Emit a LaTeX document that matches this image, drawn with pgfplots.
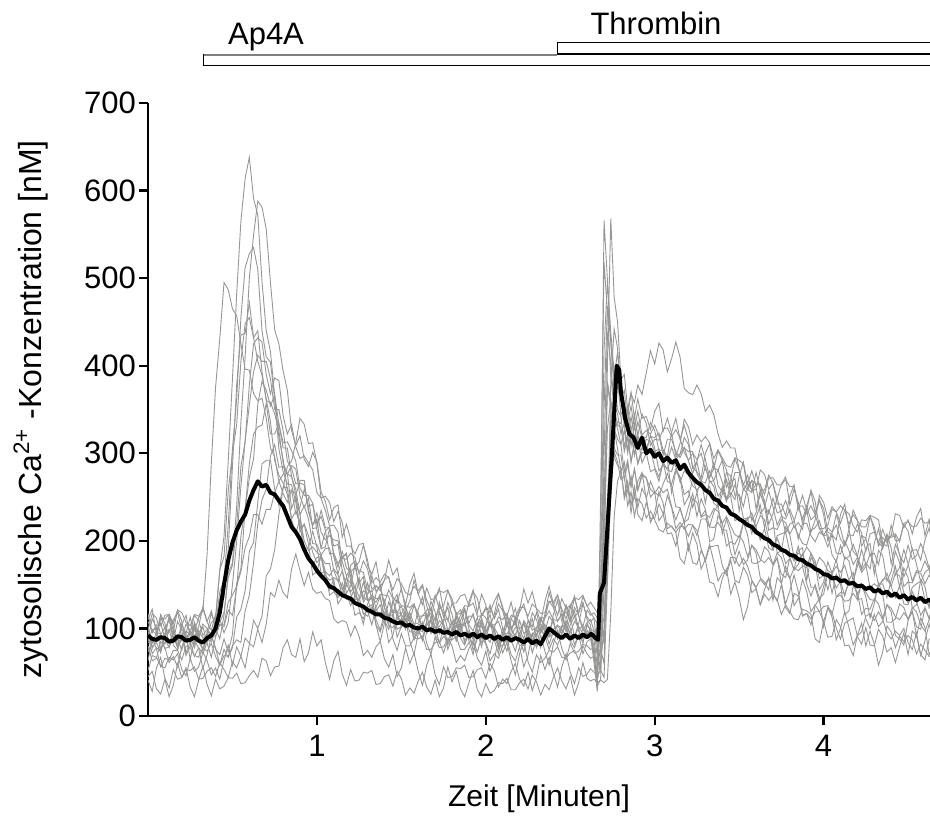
\documentclass[border=0pt]{standalone}
\usepackage{pgfplots}
\usepackage{pgfplotstable}
\pgfplotsset{compat=1.18}
\usepackage{fontspec}
\setmainfont{Liberation Sans}
\definecolor{tracegray}{RGB}{150,151,149}

\pgfplotstableread{
t A B C D E F G H I J K L M N O P
0.000 102 98 84 110 92 73 88 80 52 41 45 108 63 97 85 117
0.025 77 117 83 122 71 85 111 63 69 28 51 97 88 79 99 95
0.050 88 112 95 93 78 86 101 66 67 55 31 94 77 84 99 104
0.075 114 93 94 116 74 91 76 85 57 67 25 110 56 72 106 103
0.100 99 101 82 106 90 77 90 78 55 43 42 111 66 95 88 115
0.125 111 96 98 82 99 79 115 61 67 32 22 116 64 111 78 116
0.150 91 110 96 97 81 88 103 68 64 53 35 97 75 86 96 106
0.175 78 118 87 121 75 89 79 56 71 42 60 87 75 108 82 121
0.200 104 99 86 108 93 75 87 79 53 44 44 105 64 98 87 118
0.225 115 94 97 86 69 92 86 92 46 53 55 90 80 72 105 107
0.250 90 113 93 95 80 85 99 65 66 52 33 95 78 85 97 103
0.275 78 90 101 97 105 68 101 87 51 56 22 115 69 107 82 116
0.300 98 102 85 112 89 78 92 77 56 42 41 109 67 93 90 114
0.325 89 125 76 120 102 71 105 54 73 43 57 92 78 75 75 123
0.350 93 108 94 185 83 84 100 70 63 51 36 99 74 88 95 107
0.375 107 120 88 289 67 93 92 92 47 55 23 88 83 85 118 98
0.400 110 100 102 375 90 76 91 78 55 45 42 112 68 96 100 116
0.425 167 88 142 431 111 70 104 58 42 61 31 167 58 105 134 107
0.450 205 115 155 495 95 88 102 69 64 53 34 182 76 104 135 118
0.475 291 163 218 487 107 73 121 68 81 44 44 257 67 130 190 158
0.500 385 175 305 465 150 93 115 80 58 62 43 300 78 138 285 172
0.525 482 239 362 457 199 151 146 87 79 55 49 333 113 148 378 217
0.550 565 335 455 425 262 168 205 84 68 68 37 405 122 165 435 285
0.575 614 410 512 396 314 236 236 120 55 89 38 448 143 192 437 313
0.600 638 500 528 395 355 272 288 138 82 83 46 455 188 205 472 378
0.625 591 549 535 368 393 294 322 175 109 79 52 432 198 230 432 425
0.650 572 588 510 360 412 356 330 220 100 99 44 440 244 230 405 432
0.675 496 581 440 363 405 382 332 247 114 84 66 393 288 219 389 427
0.700 440 556 410 340 405 372 357 259 160 105 63 360 292 236 362 390
0.725 416 495 404 306 385 354 322 297 168 141 46 358 292 236 336 368
0.750 366 441 362 296 350 367 322 310 190 136 56 345 259 255 292 386
0.775 318 425 305 268 350 333 334 284 230 155 57 326 240 268 275 383
0.800 293 394 279 276 326 312 306 285 260 141 78 289 261 254 266 343
0.825 257 372 265 277 291 313 306 276 285 135 87 277 261 244 253 322
0.850 257 326 264 237 283 303 274 286 291 168 70 273 224 258 225 333
0.875 254 309 244 250 265 291 252 282 312 185 67 259 209 231 234 307
0.900 210 320 214 230 266 260 269 251 340 166 88 230 225 239 219 294
0.925 219 293 219 191 264 252 269 238 333 149 62 240 200 259 187 297
0.950 196 285 206 192 235 252 233 249 311 164 72 225 189 239 183 289
0.975 161 301 187 211 218 243 217 214 312 145 96 197 193 242 172 281
1.000 165 290 175 193 225 219 232 215 289 140 80 196 187 212 181 255
1.025 183 256 182 163 191 228 210 235 248 142 87 184 183 192 182 249
1.050 165 245 174 165 193 212 201 215 235 134 61 191 160 211 156 251
1.075 138 224 174 160 214 185 206 215 217 132 42 192 155 216 144 244
1.100 142 238 149 168 194 186 201 182 218 111 63 166 158 184 156 222
1.125 135 241 137 161 196 174 200 162 210 106 74 154 155 170 128 234
1.150 142 204 152 144 166 182 180 181 176 109 48 166 138 188 136 221
1.175 139 219 133 157 149 184 179 186 160 107 35 140 151 169 159 194
1.200 126 202 134 152 172 159 186 154 168 91 53 149 140 164 142 194
1.225 137 169 148 138 177 147 181 138 133 103 40 171 115 170 148 185
1.250 130 176 136 132 146 158 162 154 134 91 41 152 118 166 122 196
1.275 118 195 116 143 133 130 177 136 153 69 50 159 111 164 105 197
1.300 114 178 120 140 152 138 168 132 132 75 49 134 124 144 128 172
1.325 124 152 104 143 134 160 145 138 134 67 52 117 127 142 137 162
1.350 120 158 124 122 130 142 149 134 104 79 36 140 104 148 110 176
1.375 127 153 137 113 139 149 143 134 85 85 37 150 96 146 98 148
1.400 109 162 110 132 138 124 156 115 106 65 45 124 111 129 118 155
1.425 99 158 130 114 137 107 159 114 115 56 47 112 84 144 103 178
1.450 116 144 118 116 118 130 136 121 88 70 34 132 92 134 101 161
1.475 99 157 90 134 118 139 129 119 75 45 51 118 117 111 111 169
1.500 102 151 102 126 126 112 146 102 94 55 43 117 101 116 110 144
1.525 119 141 124 108 125 99 121 116 80 78 24 126 110 108 112 127
1.550 109 138 110 114 110 118 131 106 80 60 32 124 86 120 96 150
1.575 93 148 89 100 126 105 155 87 89 72 26 128 70 128 96 163
1.600 100 143 99 122 118 106 139 96 88 51 40 114 94 110 104 139
1.625 86 150 96 136 98 115 149 90 91 35 50 114 107 102 106 127
1.650 108 132 107 110 106 114 126 103 76 58 33 121 83 117 94 146
1.675 123 121 107 131 100 117 110 111 76 71 25 122 71 94 110 133
1.700 98 138 96 119 113 101 134 92 84 47 41 109 90 106 102 134
1.725 118 122 109 94 120 102 146 84 85 36 22 126 78 130 83 143
1.750 106 126 104 108 101 110 121 99 72 56 32 118 79 113 91 141
1.775 81 143 95 130 93 111 109 76 88 44 56 98 88 124 85 144
1.800 95 134 93 116 109 97 129 89 80 45 39 106 87 102 99 129
1.825 118 116 104 95 86 114 116 113 61 55 51 101 91 86 107 129
1.850 104 121 101 105 98 106 117 96 69 54 31 115 76 109 89 137
1.875 83 108 108 103 122 86 126 107 63 58 22 123 76 122 81 139
1.900 93 130 90 114 106 94 125 86 77 44 38 104 84 99 97 126
1.925 91 144 81 114 117 89 129 70 85 45 52 97 86 87 75 142
1.950 102 118 99 103 95 103 114 93 66 53 30 113 73 106 88 134
1.975 102 139 84 117 79 110 114 106 58 55 22 90 90 94 112 115
2.000 92 127 88 112 103 91 122 83 74 43 37 102 82 96 96 124
2.025 106 102 106 103 116 84 124 71 51 60 26 127 63 105 108 118
2.050 101 116 98 101 93 100 112 91 64 52 29 111 71 104 87 131
2.075 92 139 81 113 81 77 128 79 88 33 38 122 66 108 71 140
2.100 91 125 87 110 101 89 120 81 72 42 37 100 80 94 95 122
2.125 103 104 74 117 90 114 102 91 84 37 43 85 88 94 109 114
2.150 100 115 97 100 92 98 111 90 63 51 30 110 70 102 86 130
2.175 107 113 112 91 101 109 105 94 47 60 30 123 63 105 74 108
2.200 90 124 86 109 100 88 119 80 71 42 38 99 79 93 94 121
2.225 81 124 107 94 105 73 128 81 85 34 42 88 56 109 83 145
2.250 99 114 96 99 91 97 110 89 62 50 31 109 69 101 85 129
2.275 86 128 72 118 92 111 102 93 50 29 47 98 94 86 94 142
2.300 92 123 88 110 100 88 118 82 70 44 39 101 78 98 93 122
2.325 111 117 112 95 105 78 99 99 61 69 24 112 92 95 101 107
2.350 104 118 99 104 96 99 116 91 66 53 36 112 74 112 90 131
2.375 95 131 82 92 114 90 141 76 75 67 30 120 58 131 91 148
2.400 110 130 96 116 107 94 126 88 73 49 44 110 82 124 99 128
2.425 88 138 93 132 89 103 138 81 79 33 55 109 98 108 104 115
2.450 101 122 103 108 99 101 118 94 67 56 40 116 77 116 94 134
2.475 125 111 104 127 92 106 101 103 66 71 31 119 64 96 109 123
2.500 108 127 95 114 104 92 123 86 72 50 45 108 83 112 100 126
2.525 120 113 108 90 114 92 137 78 75 37 24 124 72 135 82 135
2.550 99 119 102 106 97 100 114 93 64 55 38 115 74 118 92 133
2.575 83 136 94 128 88 102 102 71 80 45 61 97 82 130 85 138
2.600 106 126 94 113 103 90 121 85 71 48 43 107 80 110 98 125
2.620 96 118 98 108 100 94 115 88 66 54 40 110 76 104 93 130
2.640 72 112 88 112 96 80 118 70 68 50 42 98 78 70 62 124
2.660 40 78 58 106 101 48 112 40 62 46 38 70 72 34 28 118
2.680 205 50 102 112 94 82 116 62 58 52 41 150 76 42 252 72
2.700 566 148 352 82 90 248 108 202 102 44 38 418 60 298 518 228
2.720 498 402 468 198 158 378 182 328 248 152 42 496 198 438 462 382
2.740 426 568 428 382 282 352 302 362 322 258 118 438 342 402 388 358
2.760 372 478 384 442 328 306 388 328 296 302 228 392 328 356 352 342
2.780 375 450 350 420 336 298 415 305 286 290 268 385 316 345 332 328
2.800 362 384 342 362 334 298 376 280 282 270 280 344 310 322 330 310
2.820 336 390 308 372 356 270 330 290 248 274 252 352 278 334 302 326
2.840 352 350 322 336 344 288 340 256 262 240 268 322 292 304 318 300
2.860 326 370 290 354 368 262 308 274 232 256 240 342 262 324 290 324
2.880 344 340 312 328 358 282 334 250 254 228 262 316 282 298 312 298
2.900 320 362 288 348 378 258 306 268 230 248 238 336 258 318 288 320
2.925 345 340 301 321 367 277 304 278 223 242 260 317 274 289 307 309
2.950 334 342 300 326 392 272 316 248 244 226 250 318 272 300 300 306
2.975 309 327 304 322 417 250 314 268 225 234 221 335 259 321 279 319
3.000 316 348 284 332 402 256 302 256 226 224 232 326 254 306 282 318
3.025 315 357 273 320 426 251 305 223 242 213 256 303 262 280 268 323
3.050 328 325 290 298 418 265 290 230 231 210 243 304 255 286 290 303
3.075 329 340 268 316 393 277 281 252 208 220 214 296 259 283 293 291
3.100 319 323 265 316 408 263 279 238 209 216 217 324 239 293 255 307
3.125 327 297 282 302 427 239 296 214 194 210 210 340 224 285 280 293
3.150 317 311 273 295 410 238 299 221 215 180 217 316 237 267 272 299
3.175 301 339 253 306 374 221 307 213 222 174 216 332 221 280 241 318
3.200 292 330 257 302 369 239 291 219 189 196 205 315 225 275 250 310
3.225 300 310 238 302 367 254 277 218 209 175 218 283 248 263 271 283
3.250 293 321 255 277 378 228 290 206 196 173 212 291 244 258 256 279
3.275 300 313 269 267 368 248 268 225 168 189 191 310 228 264 227 272
3.300 282 319 243 285 348 236 266 225 179 178 177 293 235 256 230 300
3.325 272 312 269 267 355 199 280 216 196 153 193 272 216 262 227 311
3.350 290 294 262 269 344 202 268 215 176 151 194 283 233 243 237 282
3.375 263 304 238 281 322 229 251 221 154 136 195 281 241 239 234 303
3.400 256 295 253 267 307 220 258 213 163 157 172 292 208 262 220 292
3.425 278 286 270 249 314 194 245 212 165 168 161 281 225 247 228 261
3.450 274 284 251 255 306 199 267 187 181 139 178 259 209 252 217 270
3.475 252 295 223 247 306 196 271 174 181 153 155 278 184 264 207 294
3.500 253 292 226 274 281 206 234 188 171 135 152 278 198 250 204 281
3.525 239 288 220 290 264 199 260 173 180 110 170 264 221 226 221 258
3.550 261 259 227 265 275 182 253 178 171 125 161 258 207 225 224 266
3.575 269 255 227 280 257 195 223 195 155 154 141 269 175 208 232 258
3.600 237 278 216 263 259 190 232 186 147 146 145 265 174 226 215 264
3.625 258 258 229 231 281 179 254 158 156 127 127 265 177 241 201 264
3.650 246 258 224 238 276 175 240 153 150 139 144 241 193 215 214 253
3.675 219 275 203 257 259 181 212 144 157 132 158 231 188 235 192 272
3.700 231 266 190 239 266 173 215 171 140 139 132 249 173 223 189 272
3.725 249 242 206 218 248 180 213 181 131 133 158 232 186 186 203 264
3.750 230 242 208 228 265 162 224 151 150 116 152 234 181 189 191 264
3.775 209 229 210 225 273 158 221 171 124 127 128 246 165 216 174 270
3.800 219 251 187 236 241 181 208 158 117 119 143 232 157 207 180 262
3.825 222 264 177 224 259 167 217 126 140 111 161 215 169 181 167 262
3.850 239 236 194 202 244 173 207 134 137 110 142 221 166 186 189 238
3.875 240 252 172 220 220 185 197 156 115 122 114 213 171 183 192 225
3.900 231 235 169 220 235 171 195 142 117 120 117 240 151 193 155 239
3.925 240 210 186 206 258 147 212 119 104 116 111 256 137 186 181 224
3.950 230 224 177 199 245 147 215 127 126 88 119 232 150 168 174 229
3.975 214 252 157 210 214 130 223 119 134 84 119 247 135 181 144 246
4.000 206 244 161 206 214 148 206 125 102 108 108 230 139 176 153 237
4.025 215 226 144 207 218 164 193 126 124 90 123 200 163 166 176 210
4.050 210 239 163 184 236 140 207 116 113 91 119 209 161 163 163 207
4.075 218 233 179 176 233 162 186 136 87 110 100 230 146 171 136 201
4.100 202 240 154 195 220 151 185 138 100 102 88 214 154 164 141 230
4.125 194 235 182 179 235 116 200 131 119 80 106 195 137 172 140 242
4.150 213 219 177 182 231 120 189 132 101 81 109 207 155 155 152 213
4.175 188 230 154 196 217 149 173 140 81 69 112 206 164 152 151 235
4.200 182 223 171 183 210 141 181 133 92 92 91 219 133 177 139 224
4.225 206 216 190 167 224 116 169 134 96 106 82 209 151 164 149 194
4.250 203 216 173 175 223 123 192 111 114 80 101 188 136 171 141 203
4.275 183 229 146 168 229 122 197 100 117 97 81 208 112 185 133 228
4.300 186 227 151 197 211 134 162 116 109 82 80 210 128 173 132 216
4.325 173 224 147 214 198 128 189 102 119 58 99 198 152 150 150 194
4.350 196 197 156 191 213 112 183 108 110 73 91 193 139 151 154 204
4.375 205 194 157 208 200 127 154 127 95 103 73 206 107 135 163 198
4.400 174 218 148 192 206 123 165 119 88 96 78 204 107 155 148 206
4.425 196 200 163 161 231 113 188 92 97 78 61 206 111 171 135 208
4.450 185 201 160 170 229 110 175 88 92 91 79 183 128 147 149 199
4.475 159 219 141 190 215 118 148 81 100 85 95 175 124 169 128 220
4.500 172 211 129 174 224 111 153 109 84 92 70 195 110 158 127 222
4.525 191 189 147 154 208 119 152 120 76 87 97 179 124 123 142 216
4.550 173 190 151 166 227 102 164 91 95 71 92 183 119 127 131 217
4.575 153 178 154 165 237 99 163 112 70 82 69 197 104 156 115 226
4.600 164 201 133 177 206 124 151 101 64 75 86 185 97 148 123 220
4.625 168 215 125 167 225 111 161 70 88 68 105 169 110 123 111 222
4.650 186 189 144 146 211 118 152 79 86 68 87 177 108 130 134 199
}\data

\pgfplotstableread{
t Mn
0.000 92
0.025 88
0.050 87
0.075 90
0.100 89
0.125 85
0.150 86
0.175 91
0.200 90
0.225 86
0.250 87
0.275 90
0.300 86
0.325 84
0.350 89
0.375 92
0.400 100
0.425 118
0.450 150
0.475 178
0.500 198
0.525 212
0.550 222
0.575 230
0.600 246
0.625 258
0.650 268
0.675 262
0.700 264
0.725 255
0.750 253
0.775 246
0.800 240
0.825 228
0.850 216
0.875 210
0.900 202
0.925 190
0.950 180
0.975 174
1.000 166
1.025 160
1.050 155
1.075 148
1.100 146
1.125 142
1.150 138
1.175 136
1.200 134
1.225 129
1.250 127
1.275 125
1.300 121
1.325 119
1.350 116
1.375 116
1.400 112
1.425 111
1.450 108
1.475 106
1.500 107
1.525 103
1.550 104
1.575 101
1.600 100
1.625 102
1.650 98
1.675 99
1.700 96
1.725 98
1.750 95
1.775 96
1.800 93
1.825 96
1.850 92
1.875 94
1.900 91
1.925 94
1.950 90
1.975 93
2.000 89
2.025 92
2.050 88
2.075 91
2.100 87
2.125 90
2.150 86
2.175 89
2.200 87
2.225 84
2.250 88
2.275 83
2.300 86
2.325 82
2.350 91
2.375 100
2.400 96
2.425 92
2.450 89
2.475 93
2.500 88
2.525 92
2.550 89
2.575 93
2.600 90
2.625 94
2.650 89
2.665 87
2.675 140
2.700 152
2.725 230
2.750 310
2.775 400
2.790 395
2.800 370
2.825 340
2.850 322
2.875 318
2.900 306
2.925 318
2.950 300
2.975 304
3.000 296
3.025 300
3.050 291
3.075 295
3.100 289
3.125 292
3.150 282
3.175 287
3.200 278
3.225 272
3.250 267
3.275 264
3.300 258
3.325 255
3.350 248
3.375 246
3.400 240
3.425 238
3.450 231
3.475 229
3.500 225
3.525 222
3.550 218
3.575 216
3.600 210
3.625 207
3.650 203
3.675 201
3.700 196
3.725 194
3.750 190
3.775 188
3.800 184
3.825 183
3.850 179
3.875 178
3.900 174
3.925 172
3.950 168
3.975 166
4.000 162
4.025 161
4.050 157
4.075 158
4.100 154
4.125 155
4.150 151
4.175 152
4.200 148
4.225 149
4.250 145
4.275 147
4.300 142
4.325 144
4.350 140
4.375 142
4.400 137
4.425 140
4.450 135
4.475 138
4.500 133
4.525 136
4.550 132
4.575 135
4.600 130
4.625 133
4.650 128
}\meandata

\begin{document}
\begin{tikzpicture}
\useasboundingbox (0,0) rectangle (465pt,409pt);
\begin{axis}[
  at={(74pt,51pt)}, anchor=south west,
  scale only axis, width=391pt, height=306.5pt,
  xmin=0, xmax=4.63, ymin=0, ymax=700,
  axis x line=bottom, axis y line=left,
  axis line style={-, line width=1.3pt, black},
  xtick={1,2,3,4}, ytick={0,100,200,300,400,500,600,700},
  tick style={black, line width=1.2pt},
  major tick length=4.5pt, tick align=outside,
  tick label style={font=\fontsize{15.5}{18}\selectfont},
  xticklabel style={yshift=-1.5pt},
  yticklabel style={xshift=2pt},
  /pgf/number format/assume math mode=true,
]
\pgfplotsinvokeforeach{A,B,C,D,E,F,G,H,I,J,K,L,M,N,O,P}{
  \addplot[tracegray, line width=0.45pt] table[x=t, y=#1] {\data};
}
\addplot[black, line width=2pt, line join=round] table[x=t, y=Mn] {\meandata};
\end{axis}
\node[anchor=base, font=\fontsize{15}{18}\selectfont] at (269.5pt,5.5pt) {Zeit [Minuten]};
\node[rotate=90, font=\fontsize{16}{19}\selectfont] at (15.5pt,204.25pt) {zytosolische Ca\textsuperscript{2+} -Konzentration [nM]};
\draw[line width=0.5pt, fill=white] (101.5pt,376pt) rectangle (470pt,381.5pt);
\draw[line width=0.6pt, gray] (101.75pt,381.5pt) -- (278.5pt,381.5pt);
\draw[line width=0.5pt, fill=white] (278.5pt,382pt) rectangle (470pt,387.5pt);
\node[anchor=base, font=\fontsize{15.5}{18}\selectfont] at (133pt,386.5pt) {Ap4A};
\node[anchor=base, font=\fontsize{15.5}{18}\selectfont] at (328pt,391.5pt) {Thrombin};
\end{tikzpicture}
\end{document}
